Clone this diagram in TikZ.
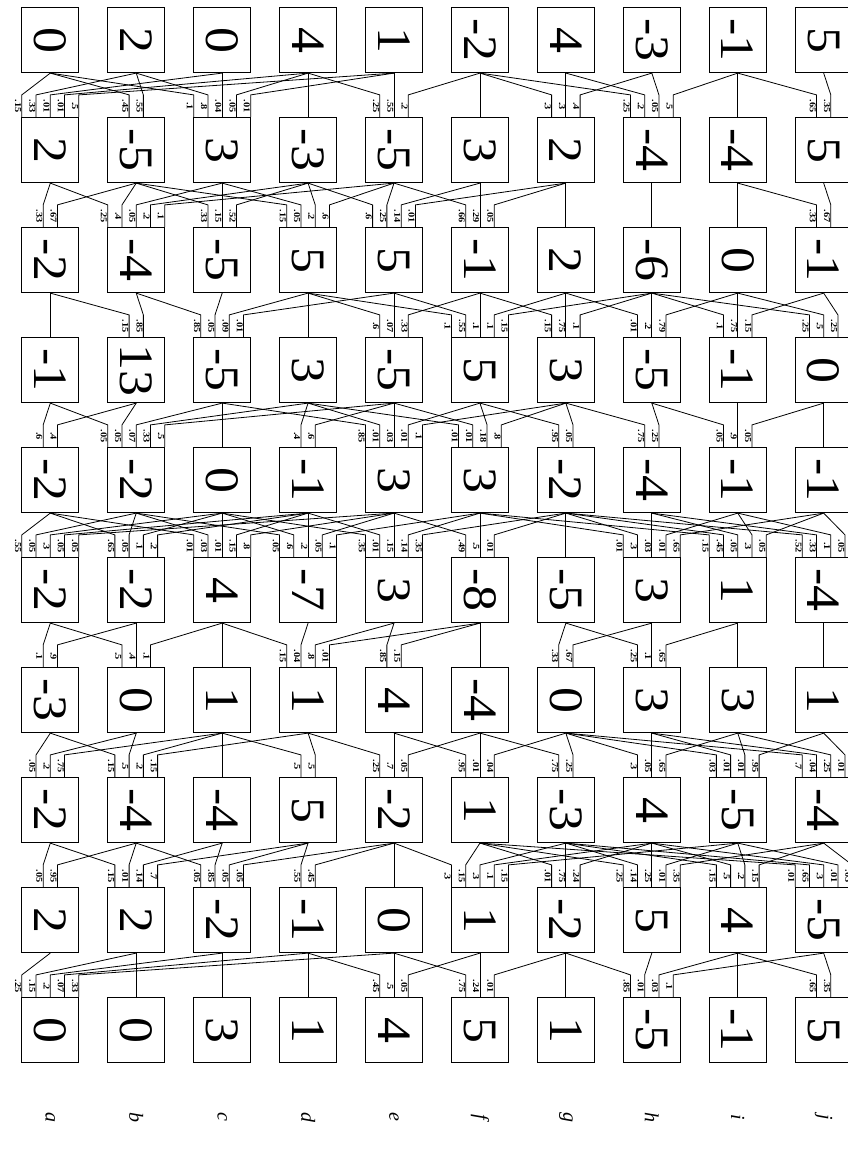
\documentclass[tikz,border=0pt]{standalone}
\usepackage{fontspec}
\setmainfont{Liberation Serif}
\usepackage{graphicx}
\usetikzlibrary{calc}
\tikzset{
 box/.style={draw, line width=1.2pt, minimum width=57pt, minimum height=65pt, inner sep=0pt, font=\fontsize{48}{48}\selectfont},
 edge/.style={line width=0.8pt},
 lab/.style={font=\bfseries\fontsize{9}{9}\selectfont, rotate=-90, anchor=north, inner sep=0.6pt},
 colname/.style={font=\itshape\fontsize{20}{20}\selectfont, rotate=-90}
}
\newcommand\rowb[2]{%
  \foreach \v [count=\k from 0] in {#2} {
    \pgfmathsetmacro\xx{50.3+85.93*\k}
    \pgfmathsetmacro\yy{40+110*(#1-1)}
    \edef\cn{\ifcase\k a\or b\or c\or d\or e\or f\or g\or h\or i\or j\fi}
    \node[box] (n#1\cn) at (\xx,\yy) {\rotatebox{-90}{\scalebox{1.08}[1]{\v}}};
  }
}
\newcommand\G[4]{%
  \foreach \s/\w [count=\i] in {#4} {\xdef\cnt{\i}}%
  \foreach \s/\w [count=\i] in {#4} {
    \pgfmathsetmacro\dx{(\i-(\cnt+1)/2)*14.25}
    \draw[edge] (n#1\s.south) -- ($(n#2#3.north)+(\dx pt,22pt)$) -- ($(n#2#3.north)+(\dx pt,0pt)$);
    \ifnum\cnt>1 \node[lab] at ($(n#2#3.north)+(\dx pt,11pt)$) {\scalebox{1.15}[1]{\w}};\fi
  }
}
\begin{document}
\begin{tikzpicture}[x=1pt,y=-1pt]
\useasboundingbox (0,0) rectangle (847,1159);
\rowb{1}{0,2,0,4,1,-2,4,-3,-1,5}
\rowb{2}{2,-5,3,-3,-5,3,2,-4,-4,5}
\rowb{3}{-2,-4,-5,5,5,-1,2,-6,0,-1}
\rowb{4}{-1,13,-5,3,-5,5,3,-5,-1,0}
\rowb{5}{-2,-2,0,-1,3,3,-2,-4,-1,-1}
\rowb{6}{-2,-2,4,-7,3,-8,-5,3,1,-4}
\rowb{7}{-3,0,1,1,4,-4,0,3,3,1}
\rowb{8}{-2,-4,-4,5,-2,1,-3,4,-5,-4}
\rowb{9}{2,2,-2,-1,0,1,-2,5,4,-5}
\rowb{10}{0,0,3,1,4,5,1,-5,-1,5}
% R1 -> R2
\G{1}{2}{a}{a/.15, b/.33, c/.01, d/.01, e/.5}
\G{1}{2}{b}{a/.45, b/.55}
\G{1}{2}{c}{a/.1, b/.8, c/.04, d/.05, e/.01}
\G{1}{2}{d}{d/1}
\G{1}{2}{e}{d/.25, e/.55, f/.2}
\G{1}{2}{f}{f/1}
\G{1}{2}{g}{f/.3, g/.3, h/.4}
\G{1}{2}{h}{f/.25, g/.2, h/.05, i/.5}
\G{1}{2}{i}{i/1}
\G{1}{2}{j}{i/.65, j/.35}
% R2 -> R3
\G{2}{3}{a}{a/.33, b/.67}
\G{2}{3}{b}{a/.25, b/.4, c/.05, d/.2, e/.1}
\G{2}{3}{c}{b/.33, c/.15, d/.52}
\G{2}{3}{d}{b/.15, c/.05, d/.2, e/.6}
\G{2}{3}{e}{d/.6, e/.25, f/.14, g/.01}
\G{2}{3}{f}{e/.66, f/.29, g/.05}
\G{2}{3}{g}{g/1}
\G{2}{3}{h}{h/1}
\G{2}{3}{i}{i/1}
\G{2}{3}{j}{i/.33, j/.67}
% R3 -> R4
\G{3}{4}{a}{a/1}
\G{3}{4}{b}{a/.15, b/.85}
\G{3}{4}{c}{b/.85, c/.05, d/.09, e/.01}
\G{3}{4}{d}{d/1}
\G{3}{4}{e}{d/.6, e/.07, f/.33}
\G{3}{4}{f}{d/.1, e/.55, f/.1, g/.1, h/.15}
\G{3}{4}{g}{f/.15, g/.75, h/.1}
\G{3}{4}{h}{g/.01, h/.2, i/.79}
\G{3}{4}{i}{h/.1, i/.75, j/.15}
\G{3}{4}{j}{h/.25, i/.5, j/.25}
% R4 -> R5
\G{4}{5}{a}{a/.6, b/.4}
\G{4}{5}{b}{a/.05, b/.05, c/.07, d/.33, e/.5}
\G{4}{5}{c}{c/1}
\G{4}{5}{d}{d/.4, e/.6}
\G{4}{5}{e}{c/.85, d/.01, e/.03, f/.01, g/.1}
\G{4}{5}{f}{d/.01, e/.01, f/.18, g/.8}
\G{4}{5}{g}{f/.95, g/.05}
\G{4}{5}{h}{g/.75, h/.25}
\G{4}{5}{i}{h/.05, i/.9, j/.05}
\G{4}{5}{j}{j/1}
% R5 -> R6
\G{5}{6}{a}{a/.55, b/.05, c/.3, d/.05, e/.05}
\G{5}{6}{b}{a/.65, b/.05, c/.1, d/.2}
\G{5}{6}{c}{a/.01, b/.03, c/.01, d/.15, e/.8}
\G{5}{6}{d}{b/.05, c/.6, d/.2, e/.05, f/.1}
\G{5}{6}{e}{c/.35, d/.01, e/.15, f/.14, g/.35}
\G{5}{6}{f}{e/.49, f/.5, g/.01}
\G{5}{6}{g}{g/1}
\G{5}{6}{h}{f/.01, g/.3, h/.03, i/.01, j/.65}
\G{5}{6}{i}{f/.15, g/.45, h/.05, i/.3, j/.05}
\G{5}{6}{j}{g/.52, h/.33, i/.1, j/.05}
% R6 -> R7
\G{6}{7}{a}{a/.1, b/.9}
\G{6}{7}{b}{a/.5, b/.4, c/.1}
\G{6}{7}{c}{c/1}
\G{6}{7}{d}{c/.15, d/.04, e/.8, f/.01}
\G{6}{7}{e}{e/.85, f/.15}
\G{6}{7}{f}{f/1}
\G{6}{7}{g}{g/.33, h/.67}
\G{6}{7}{h}{g/.25, h/.1, i/.65}
\G{6}{7}{i}{i/1}
\G{6}{7}{j}{j/1}
% R7 -> R8
\G{7}{8}{a}{a/.05, b/.2, c/.75}
\G{7}{8}{b}{a/.15, b/.5, c/.2, d/.15}
\G{7}{8}{c}{c/1}
\G{7}{8}{d}{c/.5, d/.5}
\G{7}{8}{e}{d/.25, e/.7, f/.05}
\G{7}{8}{f}{e/.95, f/.01, g/.04}
\G{7}{8}{g}{f/.75, g/.25}
\G{7}{8}{h}{g/.3, h/.05, i/.65}
\G{7}{8}{i}{g/.03, h/.01, i/.01, j/.95}
\G{7}{8}{j}{g/.7, h/.04, i/.25, j/.01}
% R8 -> R9
\G{8}{9}{a}{a/.05, b/.95}
\G{8}{9}{b}{a/.15, b/.01, c/.14, d/.7}
\G{8}{9}{c}{b/.05, c/.85, d/.05, e/.05}
\G{8}{9}{d}{d/.55, e/.45}
\G{8}{9}{e}{e/1}
\G{8}{9}{f}{e/.3, f/.15, g/.3, h/.1, i/.15}
\G{8}{9}{g}{f/.01, g/.75, h/.24}
\G{8}{9}{h}{f/.25, g/.14, h/.25, i/.01, j/.35}
\G{8}{9}{i}{g/.15, h/.5, i/.2, j/.15}
\G{8}{9}{j}{f/.01, g/.65, h/.3, i/.01, j/.03}
% R9 -> R10
\G{9}{10}{a}{a/.25, b/.15, c/.2, d/.07, e/.33}
\G{9}{10}{b}{b/1}
\G{9}{10}{c}{c/1}
\G{9}{10}{d}{d/1}
\G{9}{10}{e}{d/.45, e/.5, f/.05}
\G{9}{10}{f}{e/.75, f/.24, g/.01}
\G{9}{10}{g}{g/1}
\G{9}{10}{h}{g/.85, h/.01, i/.03, j/.1}
\G{9}{10}{i}{i/1}
\G{9}{10}{j}{i/.65, j/.35}
% column names
\foreach \c [count=\k from 0] in {a,b,c,d,e,f,g,h,i,j} {
  \pgfmathsetmacro\xx{50.3+85.93*\k}
  \node[colname] (l\c) at (\xx,1117) {\c};
}
\end{tikzpicture}
\end{document}
